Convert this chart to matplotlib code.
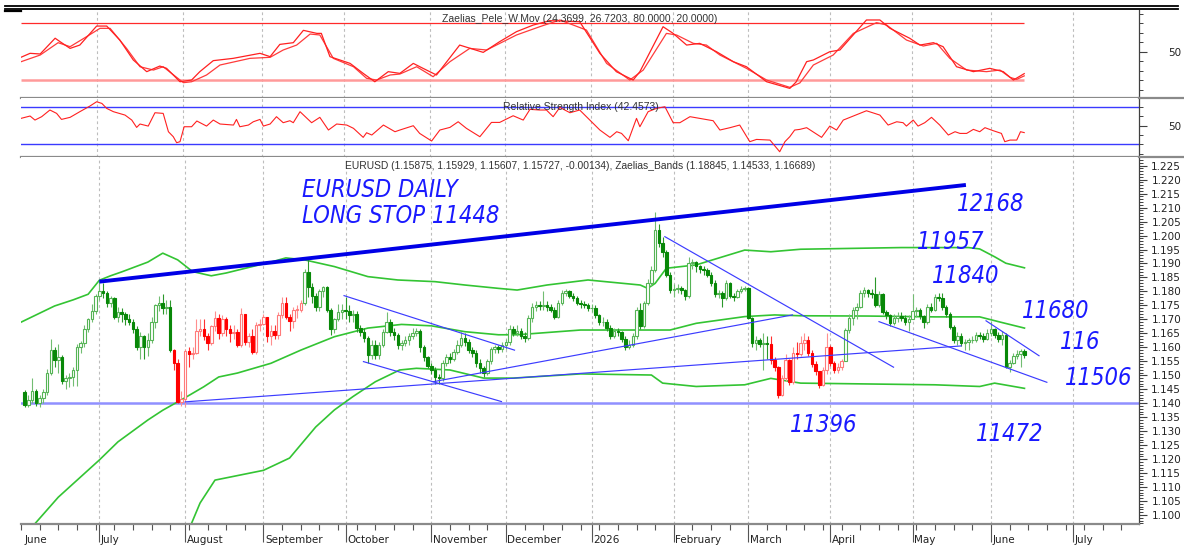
import numpy as np
import matplotlib
matplotlib.use('Agg')
import matplotlib.pyplot as plt
from matplotlib.lines import Line2D
from matplotlib.transforms import blended_transform_factory

W, H = 1184, 548
plt.rcParams['font.family'] = ['DejaVu Sans']

# month starts as trading-day index (0 = 2 June 2025)
month_idx = [0, 21, 44, 65, 87, 110, 130, 153, 175, 195, 217, 239, 260, 282]
month_lbl = ['June', 'July', 'August', 'September', 'October', 'November', 'December',
             '2026', 'February', 'March', 'April', 'May', 'June', 'July']

# daily EURUSD bars, index 1..269 (open = previous close)
first_open = 1.1440
close = [
    # June
    1.1395, 1.1410, 1.1445, 1.1400, 1.1420, 1.1440, 1.1510, 1.1590, 1.1555, 1.1565,
    1.1480, 1.1490, 1.1495, 1.1520, 1.1600, 1.1615, 1.1665, 1.1700, 1.1730, 1.1785,
    # July
    1.1800, 1.1795, 1.1760, 1.1775, 1.1710, 1.1725, 1.1720, 1.1700, 1.1690, 1.1665,
    1.1600, 1.1640, 1.1600, 1.1625, 1.1690, 1.1750, 1.1760, 1.1740, 1.1745, 1.1590,
    1.1545, 1.1405, 1.1415,
    # August
    1.1587, 1.1575, 1.1580, 1.1660, 1.1665, 1.1640, 1.1615, 1.1675, 1.1705, 1.1650,
    1.1700, 1.1665, 1.1650, 1.1655, 1.1610, 1.1720, 1.1620, 1.1640, 1.1585, 1.1680, 1.1685,
    # September
    1.1710, 1.1640, 1.1660, 1.1645, 1.1715, 1.1760, 1.1710, 1.1695, 1.1735, 1.1735,
    1.1760, 1.1870, 1.1815, 1.1785, 1.1745, 1.1800, 1.1815, 1.1735, 1.1665, 1.1700,
    1.1725, 1.1735,
    # October
    1.1730, 1.1715, 1.1720, 1.1668, 1.1655, 1.1635, 1.1573, 1.1610, 1.1572, 1.1610,
    1.1655, 1.1690, 1.1656, 1.1645, 1.1610, 1.1615, 1.1625, 1.1640, 1.1650, 1.1660,
    1.1600, 1.1565, 1.1535,
    # November
    1.1520, 1.1495, 1.1490, 1.1545, 1.1565, 1.1560, 1.1585, 1.1610, 1.1635, 1.1620,
    1.1590, 1.1580, 1.1545, 1.1525, 1.1510, 1.1550, 1.1595, 1.1600, 1.1595, 1.1610,
    # December
    1.1620, 1.1665, 1.1650, 1.1660, 1.1640, 1.1635, 1.1705, 1.1745, 1.1750, 1.1748,
    1.1752, 1.1745, 1.1735, 1.1710, 1.1760, 1.1795, 1.1800, 1.1785, 1.1775, 1.1760,
    1.1755, 1.1752, 1.1740,
    # January
    1.1742, 1.1715, 1.1690, 1.1692, 1.1670, 1.1640, 1.1660, 1.1655, 1.1630, 1.1603,
    1.1610, 1.1640, 1.1733, 1.1675, 1.1757, 1.1830, 1.1877, 1.2020, 1.1972, 1.1940,
    1.1860, 1.1805,
    # February
    1.1810, 1.1812, 1.1805, 1.1782, 1.1900, 1.1905, 1.1890, 1.1880, 1.1877, 1.1860,
    1.1830, 1.1790, 1.1795, 1.1775, 1.1830, 1.1785, 1.1780, 1.1800, 1.1810, 1.1812,
    # March
    1.1705, 1.1615, 1.1625, 1.1612, 1.1617, 1.1612, 1.1555, 1.1530, 1.1430, 1.1490,
    1.1555, 1.1475, 1.1580, 1.1575, 1.1615, 1.1625, 1.1580, 1.1540, 1.1515, 1.1465,
    1.1520, 1.1600,
    # April
    1.1545, 1.1520, 1.1530, 1.1550, 1.1662, 1.1705, 1.1735, 1.1745, 1.1795, 1.1805,
    1.1795, 1.1790, 1.1750, 1.1790, 1.1728, 1.1715, 1.1686, 1.1705, 1.1712, 1.1705,
    1.1690, 1.1700,
    # May
    1.1730, 1.1735, 1.1712, 1.1690, 1.1745, 1.1735, 1.1780, 1.1775, 1.1745, 1.1720,
    1.1674, 1.1626, 1.1640, 1.1614, 1.1620, 1.1625, 1.1625, 1.1645, 1.1640, 1.1630, 1.1650,
    # June
    1.1665, 1.1645, 1.1630, 1.1645, 1.1531, 1.1545, 1.1570, 1.1575, 1.15875, 1.15727,
]
high = [
    1.1448, 1.1430, 1.1490, 1.1450, 1.1428, 1.1452, 1.1522, 1.1630, 1.1600, 1.1612,
    1.1572, 1.1502, 1.1508, 1.1530, 1.1612, 1.1622, 1.1680, 1.1706, 1.1755, 1.1790,
    1.1840, 1.1830, 1.1800, 1.1785, 1.1780, 1.1745, 1.1740, 1.1725, 1.1720, 1.1700,
    1.1675, 1.1655, 1.1645, 1.1650, 1.1710, 1.1755, 1.1785, 1.1790, 1.1770, 1.1770,
    1.1595, 1.1560, 1.1445,
    1.1595, 1.1600, 1.1600, 1.1700, 1.1700, 1.1700, 1.1650, 1.1680, 1.1730, 1.1720,
    1.1715, 1.1710, 1.1680, 1.1680, 1.1665, 1.1740, 1.1720, 1.1650, 1.1665, 1.1690, 1.1700,
    1.1720, 1.1710, 1.1680, 1.1680, 1.1725, 1.1780, 1.1780, 1.1720, 1.1745, 1.1750,
    1.1770, 1.1880, 1.1918, 1.1830, 1.1795, 1.1810, 1.1820, 1.1820, 1.1740, 1.1705,
    1.1755, 1.1755,
    1.1780, 1.1750, 1.1735, 1.1730, 1.1680, 1.1670, 1.1640, 1.1625, 1.1625, 1.1620,
    1.1665, 1.1727, 1.1700, 1.1670, 1.1650, 1.1625, 1.1640, 1.1650, 1.1670, 1.1670,
    1.1665, 1.1610, 1.1570,
    1.1545, 1.1530, 1.1505, 1.1555, 1.1575, 1.1580, 1.1595, 1.1625, 1.1656, 1.1650,
    1.1630, 1.1600, 1.1590, 1.1560, 1.1535, 1.1560, 1.1600, 1.1610, 1.1610, 1.1620,
    1.1630, 1.1680, 1.1675, 1.1680, 1.1670, 1.1655, 1.1715, 1.1760, 1.1765, 1.1765,
    1.1800, 1.1765, 1.1755, 1.1745, 1.1770, 1.1805, 1.1808, 1.1805, 1.1795, 1.1785,
    1.1770, 1.1765, 1.1760,
    1.1755, 1.1750, 1.1720, 1.1710, 1.1700, 1.1680, 1.1670, 1.1670, 1.1660, 1.1640,
    1.1625, 1.1650, 1.1745, 1.1760, 1.1765, 1.1845, 1.1890, 1.2085, 1.2040, 1.1995,
    1.1950, 1.1870,
    1.1825, 1.1825, 1.1820, 1.1810, 1.1925, 1.1915, 1.1910, 1.1895, 1.1890, 1.1885,
    1.1870, 1.1840, 1.1805, 1.1800, 1.1840, 1.1835, 1.1795, 1.1810, 1.1818, 1.1820,
    1.1815, 1.1710, 1.1640, 1.1635, 1.1650, 1.1640, 1.1640, 1.1565, 1.1535, 1.1500,
    1.1575, 1.1560, 1.1600, 1.1620, 1.1640, 1.1650, 1.1640, 1.1590, 1.1550, 1.1510,
    1.1530, 1.1650,
    1.1610, 1.1550, 1.1545, 1.1560, 1.1670, 1.1720, 1.1745, 1.1760, 1.1805, 1.1815,
    1.1810, 1.1810, 1.1853, 1.1800, 1.1795, 1.1735, 1.1720, 1.1720, 1.1725, 1.1725,
    1.1715, 1.1715,
    1.1790, 1.1745, 1.1740, 1.1715, 1.1755, 1.1760, 1.1790, 1.1795, 1.1795, 1.1750,
    1.1725, 1.1680, 1.1655, 1.1650, 1.1630, 1.1635, 1.1640, 1.1655, 1.1655, 1.1650, 1.1665,
    1.1695, 1.1670, 1.1655, 1.1660, 1.1650, 1.1555, 1.1580, 1.1590, 1.1595, 1.15929,
]
low = [
    1.1385, 1.1385, 1.1400, 1.1390, 1.1385, 1.1400, 1.1430, 1.1500, 1.1530, 1.1510,
    1.1470, 1.1450, 1.1458, 1.1462, 1.1460, 1.1580, 1.1600, 1.1655, 1.1690, 1.1720,
    1.1770, 1.1775, 1.1745, 1.1745, 1.1700, 1.1690, 1.1690, 1.1680, 1.1680, 1.1650,
    1.1590, 1.1560, 1.1560, 1.1570, 1.1615, 1.1670, 1.1730, 1.1720, 1.1720, 1.1585,
    1.1520, 1.1400, 1.1390,
    1.1390, 1.1530, 1.1560, 1.1575, 1.1640, 1.1625, 1.1590, 1.1610, 1.1660, 1.1630,
    1.1640, 1.1640, 1.1620, 1.1630, 1.1600, 1.1600, 1.1610, 1.1600, 1.1575, 1.1575, 1.1660,
    1.1680, 1.1620, 1.1610, 1.1630, 1.1630, 1.1705, 1.1700, 1.1660, 1.1670, 1.1705,
    1.1725, 1.1750, 1.1780, 1.1760, 1.1730, 1.1730, 1.1780, 1.1725, 1.1645, 1.1650,
    1.1695, 1.1700,
    1.1700, 1.1690, 1.1690, 1.1655, 1.1640, 1.1620, 1.1545, 1.1560, 1.1560, 1.1560,
    1.1600, 1.1650, 1.1640, 1.1625, 1.1595, 1.1590, 1.1605, 1.1610, 1.1630, 1.1640,
    1.1585, 1.1550, 1.1525,
    1.1505, 1.1470, 1.1468, 1.1480, 1.1535, 1.1545, 1.1550, 1.1575, 1.1600, 1.1605,
    1.1580, 1.1565, 1.1530, 1.1510, 1.1495, 1.1500, 1.1540, 1.1580, 1.1580, 1.1585,
    1.1595, 1.1610, 1.1640, 1.1640, 1.1630, 1.1620, 1.1625, 1.1690, 1.1730, 1.1735,
    1.1735, 1.1730, 1.1725, 1.1700, 1.1705, 1.1750, 1.1785, 1.1775, 1.1765, 1.1750,
    1.1740, 1.1740, 1.1730,
    1.1725, 1.1705, 1.1680, 1.1675, 1.1660, 1.1630, 1.1635, 1.1640, 1.1620, 1.1590,
    1.1595, 1.1600, 1.1630, 1.1665, 1.1670, 1.1750, 1.1820, 1.1870, 1.1960, 1.1925,
    1.1850, 1.1795,
    1.1780, 1.1795, 1.1790, 1.1770, 1.1775, 1.1880, 1.1870, 1.1865, 1.1860, 1.1850,
    1.1820, 1.1780, 1.1775, 1.1745, 1.1770, 1.1775, 1.1765, 1.1775, 1.1795, 1.1800,
    1.1700, 1.1600, 1.1590, 1.1600, 1.1520, 1.1560, 1.1540, 1.1515, 1.1420, 1.1425,
    1.1480, 1.1465, 1.1470, 1.1560, 1.1570, 1.1590, 1.1570, 1.1530, 1.1500, 1.1455,
    1.1460, 1.1505,
    1.1535, 1.1510, 1.1510, 1.1520, 1.1550, 1.1650, 1.1680, 1.1700, 1.1740, 1.1780,
    1.1780, 1.1775, 1.1745, 1.1745, 1.1720, 1.1700, 1.1675, 1.1680, 1.1690, 1.1695,
    1.1680, 1.1660,
    1.1700, 1.1710, 1.1700, 1.1670, 1.1685, 1.1725, 1.1730, 1.1765, 1.1735, 1.1710,
    1.1665, 1.1615, 1.1610, 1.1605, 1.1590, 1.1590, 1.1615, 1.1620, 1.1630, 1.1620, 1.1625,
    1.1640, 1.1635, 1.1620, 1.1610, 1.1525, 1.1513, 1.1540, 1.1560, 1.1530, 1.15607,
]
# bars drawn in red (first, last index)
red_ranges = [(41, 75), (201, 220)]

# Zaelias bands (index, price)
upper_x = [0, 9, 14, 18, 21, 24, 27, 34, 38, 42, 46, 51, 55, 62, 67, 71, 76, 84, 93, 101,
           111, 119, 128, 133, 141, 152, 166, 168, 170, 173, 181, 194, 201, 209, 227, 236,
           254, 257, 261, 264, 269]
upper_v = [1.1690, 1.1748, 1.1770, 1.1790, 1.1840, 1.1856, 1.1870, 1.1905, 1.1937, 1.1913,
           1.1871, 1.1856, 1.1866, 1.1889, 1.1905, 1.1920, 1.1913, 1.1889, 1.1853, 1.1841,
           1.1835, 1.1823, 1.1811, 1.1805, 1.1823, 1.1841, 1.1823, 1.1811, 1.1829, 1.1883,
           1.1895, 1.1948, 1.1942, 1.1951, 1.1955, 1.1957, 1.1957, 1.1952, 1.1924, 1.1901,
           1.18845]
mid_x = [0.5, 10, 21, 26, 34, 38, 44, 49, 53, 58, 67, 75, 84, 93, 102, 110, 119, 128, 133,
         150, 166, 174, 181, 194, 202, 209, 227, 245, 257, 262, 269]
mid_v = [1.0920, 1.1064, 1.1197, 1.1262, 1.1340, 1.1375, 1.1420, 1.1459, 1.1494, 1.1508,
         1.1543, 1.1590, 1.1638, 1.1669, 1.1682, 1.1677, 1.1656, 1.1645, 1.1645, 1.1662,
         1.1662, 1.1662, 1.1686, 1.1710, 1.1716, 1.1713, 1.1712, 1.1709, 1.1709, 1.1692,
         1.16689]
lower_x = [43.5, 48, 52, 65, 72, 79, 84, 89, 95, 101.5, 106, 115, 124, 132, 150, 169, 172,
           181, 194, 201, 209, 245, 257, 261, 269]
lower_v = [1.0900, 1.1043, 1.1125, 1.1160, 1.1204, 1.1315, 1.1376, 1.1424, 1.1477, 1.1519,
           1.1525, 1.1519, 1.1490, 1.1490, 1.1505, 1.1501, 1.1472, 1.1460, 1.1466, 1.1489,
           1.1472, 1.1466, 1.1460, 1.1472, 1.14533]

# Zaelias_Pele_W.Mov, two lines (index, value)
osc_a_x = [0.7, 3.1, 5.8, 9.8, 11.1, 13.8, 16.4, 20.9, 23.6, 27.1, 30.7, 34.3, 37.8, 39.6,
           43.2, 46.3, 48.5, 52.1, 57.4, 64.6, 67.3, 69.9, 73.5, 76.2, 79.8, 81.0, 83.3,
           88.7, 92.2, 95.3, 98.9, 102.0, 105.6, 108.2, 111.8, 118.0, 124.3, 128.7, 133.2,
           137.7, 142.1, 150.1, 155.5, 159.9, 164.4, 166.2, 172.4, 175.1, 178.7, 182.2,
           186.7, 191.2, 194.7, 200.1, 206.3, 208.0, 210.8, 212.6, 217.0, 219.7, 226.8,
           230.4, 233.1, 238.4, 241.1, 244.7, 247.3, 250.9, 255.4, 259.8, 263.4, 266.1, 269.0]
osc_a_v = [44.0, 48.1, 47.4, 64.0, 60.4, 53.3, 56.8, 76.8, 76.8, 62.1, 41.1, 28.8, 34.7, 32.3,
           18.2, 20.0, 28.8, 40.4, 42.8, 48.1, 44.6, 57.5, 59.3, 72.3, 69.1, 69.1, 44.6,
           37.5, 27.0, 18.2, 28.8, 27.0, 37.5, 32.3, 25.3, 56.8, 49.1, 60.4, 70.9,
           77.9, 82.5, 81.4, 48.1, 28.8, 20.0, 28.8, 76.1, 69.1, 56.8, 58.6,
           49.8, 39.3, 34.0, 18.2, 11.2, 18.0, 39.3, 41.1, 49.8, 51.6, 83.2,
           83.2, 74.4, 63.9, 56.8, 59.3, 55.1, 34.0, 28.8, 32.3, 28.8, 20.0, 26.72]
osc_b_x = [0.7, 5.8, 10.6, 13.8, 18.2, 21.8, 24.5, 28.9, 32.5, 36.1, 38.7, 44.1, 46.3, 50.3,
           53.9, 61.9, 67.3, 70.8, 74.4, 78.0, 80.6, 84.2, 89.6, 93.1, 95.8, 99.4, 102.0,
           106.5, 110.9, 115.4, 120.7, 125.2, 133.2, 139.4, 144.8, 151.9, 157.3, 163.5,
           167.1, 173.3, 176.0, 180.5, 184.0, 187.6, 194.7, 200.1, 206.3, 209.0, 212.6,
           217.9, 223.3, 229.5, 232.2, 237.5, 242.0, 245.6, 249.1, 253.6, 258.9, 262.5,
           265.2, 267.0, 269.0]
osc_b_v = [39.3, 46.3, 59.3, 55.1, 65.6, 74.4, 74.4, 53.3, 34.0, 30.5, 34.0, 17.2, 18.2, 25.3,
           35.8, 42.8, 43.9, 51.6, 56.8, 68.4, 67.4, 42.8, 34.0, 21.8, 20.0, 25.3, 26.3,
           34.0, 23.5, 39.3, 53.3, 51.6, 67.4, 76.1, 83.2, 72.6, 37.5, 20.0,
           30.5, 69.1, 67.4, 58.6, 56.8, 46.3, 32.3, 20.0, 12.3, 17.0, 35.8,
           46.3, 69.1, 80.4, 77.9, 62.1, 55.8, 58.6, 42.8, 30.5, 28.8, 30.5,
           22.8, 20.7, 24.37]

# Relative Strength Index (index, value)
rsi_x = [0.67, 3.1, 4.4, 6.2, 8.4, 10.2, 11.5, 13.8, 16.4, 19.1, 20.9, 22.3, 23.6, 25.4,
         28.5, 30.3, 31.6, 32.5, 34.7, 36.5, 38.7, 40.1, 41.4, 42.3, 43.2, 44.3, 46.3, 47.7,
         50.3, 52.1, 53.9, 57.5, 58.3, 59.2, 61.5, 62.8, 64.6, 65.5, 67.3, 69.0, 70.8, 72.6,
         73.5, 75.3, 78.4, 80.6, 82.9, 85.1, 87.8, 89.6, 92.2, 93.1, 94.5, 97.6, 100.7,
         102.0, 105.6, 107.3, 110.5, 112.7, 115.4, 117.6, 119.8, 123.4, 126.5, 128.7, 132.3,
         135.0, 136.8, 139.4, 141.2, 143.0, 144.8, 147.5, 150.1, 152.8, 155.5, 158.2, 160.0,
         161.3, 163.1, 165.3, 166.2, 168.4, 170.6, 172.9, 175.1, 176.9, 179.6, 182.2, 185.8,
         187.6, 190.3, 192.9, 195.6, 197.4, 201.0, 203.6, 205.0, 206.3, 207.6, 209.0, 210.8,
         214.8, 217.0, 218.8, 220.6, 226.8, 230.4, 232.6, 234.9, 236.6, 237.5, 239.3, 240.6,
         242.4, 244.2, 246.4, 248.7, 250.5, 251.8, 253.6, 255.4, 257.1, 258.5, 260.7, 262.9,
         263.8, 265.2, 267.0, 268.0, 269.0]
rsi_v = [57.6, 60.1, 55.8, 59.4, 66.5, 62.9, 56.5, 58.7, 64.7, 70.7, 75.3, 73.5, 68.2, 64.7,
         61.1, 55.8, 48.0, 51.6, 49.4, 63.6, 62.9, 43.4, 38.1, 31.7, 32.8, 48.7, 48.7, 54.8,
         49.4, 55.8, 51.6, 50.5, 56.5, 48.7, 50.5, 54.0, 56.5, 49.4, 51.6, 59.4, 53.0, 55.1,
         53.0, 64.7, 53.0, 58.7, 45.2, 51.6, 50.5, 47.0, 37.4, 42.3, 39.9, 50.5, 43.4,
         45.2, 49.8, 41.6, 33.5, 45.2, 48.0, 54.0, 47.0, 38.1, 53.3, 53.3, 60.4,
         55.8, 67.2, 66.5, 66.5, 59.4, 69.3, 63.6, 66.5, 55.8, 45.2, 37.4, 43.4,
         41.6, 33.8, 57.6, 48.7, 64.7, 68.2, 70.0, 53.0, 53.0, 59.4, 57.6, 55.1,
         45.2, 47.7, 50.5, 32.8, 35.2, 34.5, 22.1, 32.8, 38.1, 45.2, 45.9, 47.7,
         37.4, 49.4, 45.2, 55.8, 65.7, 61.1, 50.5, 54.0, 53.0, 49.4, 55.8, 49.4,
         53.0, 58.7, 50.5, 39.9, 43.4, 41.6, 41.6, 45.9, 43.4, 47.7, 44.5, 41.6,
         32.8, 34.5, 34.5, 43.4, 42.46]

# hand-drawn trend lines: ([x0, x1], [p0, p1])
thick_line = ([21.0, 253.3], [1.1835, 1.2181])
thin_lines = [
    ([44.0, 252.0], [1.1405, 1.1605]),
    ([110.5, 206.8], [1.1477, 1.1716]),
    ([86.6, 132.3], [1.1785, 1.1590]),
    ([91.8, 128.8], [1.1549, 1.1406]),
    ([172.6, 233.9], [1.1996, 1.1529]),
    ([230.0, 275.0], [1.1692, 1.1475]),
    ([258.7, 272.9], [1.1695, 1.1570]),
]
stop_level = 1.140

notes = ['EURUSD DAILY', 'LONG STOP 11448', '12168', '11957', '11840',
         '11680', '116', '11506', '11396', '11472']
note_px = [(302, 190), (302, 216), (957, 204), (917, 242), (932, 276),
           (1022, 311), (1060, 342), (1065, 378), (790, 425), (976, 434)]

# ---------------------------------------------------------------- figure
fig = plt.figure(figsize=(W / 100, H / 100), dpi=100)


def ax_at(top, bottom):
    return fig.add_axes([21 / W, 1 - bottom / H, (1139 - 21) / W, (bottom - top) / H])


def fx(x, y):
    return x / W, 1 - y / H


ax1 = ax_at(10, 97.7)
ax2 = ax_at(97.7, 157)
ax3 = ax_at(157, 524)

for ax in (ax1, ax2, ax3):
    ax.set_xlim(0.67, 299.7)
    ax.spines['top'].set_visible(False)
    ax.spines['left'].set_visible(False)
    ax.spines['right'].set_color('#404040')
    ax.spines['right'].set_linewidth(0.9)
    ax.spines['bottom'].set_color('#8a8a8a')
    ax.spines['bottom'].set_linewidth(1.6)
    ax.yaxis.tick_right()
    for m in month_idx[1:]:
        ax.axvline(m, color='#bdbdbd', lw=0.8, ls=(0, (2.5, 2.5)), zorder=0)
    ax.tick_params(axis='y', which='major', direction='out', length=5.8, width=0.8,
                   color='#404040', labelsize=7.5, labelcolor='#222222', pad=24.5)
    ax.tick_params(axis='y', which='minor', direction='out', length=2.9, width=0.7,
                   color='#404040')

for ax in (ax1, ax2):
    ax.tick_params(axis='x', which='both', length=0, labelbottom=False)
    ax.set_yticks([50])
    ax.set_yticklabels(['50'])
    ax.set_yticks([10, 20, 30, 40, 60, 70, 80, 90], minor=True)
    plt.setp(ax.get_yticklabels(), ha='right')

# oscillator panel
ax1.set_ylim(1.4, 93.7)
ax1.hlines(80, 0.67, 269, color='#ff2a2a', lw=0.9)
ax1.hlines(20, 0.67, 269, color='#ff9a9a', lw=1.8)
ax1.plot(osc_b_x, osc_b_v, color='#ff3b3b', lw=0.9)
ax1.plot(osc_a_x, osc_a_v, color='#ff2020', lw=0.9)

# RSI panel
ax2.set_ylim(16.5, 79.6)
ax2.axhline(70, color='#3a3aff', lw=1.0)
ax2.axhline(30, color='#3a3aff', lw=1.0)
ax2.plot(rsi_x, rsi_v, color='#ff2020', lw=0.8)

# price panel
ax3.set_ylim(1.0968, 1.2281)
yt = np.round(np.arange(1.100, 1.2251, 0.005), 3)
ax3.set_yticks(yt)
ax3.set_yticklabels([f'{v:.3f}' for v in yt])
ax3.set_yticks(np.arange(1.097, 1.228, 0.001), minor=True)
plt.setp(ax3.get_yticklabels(), ha='right')
ax3.set_xticks(month_idx[1:])
ax3.set_xticklabels([])
ax3.set_xticks(np.arange(0, 300, 5), minor=True)
ax3.tick_params(axis='x', which='major', direction='out', length=13, width=0.8,
                color='#555555')
ax3.tick_params(axis='x', which='minor', direction='out', length=4.3, width=0.8,
                color='#555555')
trans = blended_transform_factory(ax3.transData, ax3.transAxes)
for m, lbl in zip(month_idx, month_lbl):
    ax3.text(max(m, 0.67) + 0.4, -0.044, lbl, transform=trans, ha='left', va='center',
             fontsize=7.5, color='#222222', clip_on=False)

ax3.axhline(stop_level, color='#9090ff', lw=1.8, zorder=1)

ax3.plot(upper_x, upper_v, color='#33c433', lw=1.2, zorder=2)
ax3.plot(mid_x, mid_v, color='#33c433', lw=1.2, zorder=2)
ax3.plot(lower_x, lower_v, color='#33c433', lw=1.2, zorder=2)

# candles
c = np.array(close)
h = np.array(high)
l = np.array(low)
o = np.concatenate([[first_open], c[:-1]])
h = np.maximum(h, np.maximum(o, c))
l = np.minimum(l, np.minimum(o, c))
idx = np.arange(1, len(c) + 1)
red = np.zeros(len(c), bool)
for a, b in red_ranges:
    red[(idx >= a) & (idx <= b)] = True
up = c >= o

face, edge, wick = [], [], []
for r, u in zip(red, up):
    if r and u:
        face.append('white'); edge.append('#ff7a7a'); wick.append('#ff8f8f')
    elif r:
        face.append('#ff0000'); edge.append('#ff0000'); wick.append('#ff3030')
    elif u:
        face.append('white'); edge.append('#55b455'); wick.append('#72bd72')
    else:
        face.append('#088808'); edge.append('#088808'); wick.append('#2a982a')

ax3.vlines(idx, l, h, colors=wick, lw=0.8, zorder=3)
ax3.bar(idx, np.maximum(np.abs(c - o), 0.00012), bottom=np.minimum(o, c), width=0.68,
        color=face, edgecolor=edge, linewidth=0.8, zorder=3)

for xs, ys in thin_lines:
    ax3.plot(xs, ys, color='#3c3cff', lw=0.85, zorder=4)
ax3.plot(*thick_line, color='#0000e6', lw=2.8, solid_capstyle='butt', zorder=4)

# headers
fig.text(*fx(580, 19), 'Zaelias_Pele_W.Mov (24.3699, 26.7203, 80.0000, 20.0000)',
         ha='center', va='center', fontsize=7.5, color='#333333', family='Liberation Sans')
fig.text(*fx(581, 107), 'Relative Strength Index (42.4573)',
         ha='center', va='center', fontsize=7.5, color='#333333', family='Liberation Sans')
fig.text(*fx(580, 166),
         'EURUSD (1.15875, 1.15929, 1.15607, 1.15727, -0.00134), '
         'Zaelias_Bands (1.18845, 1.14533, 1.16689)',
         ha='center', va='center', fontsize=7.4, color='#333333', family='Liberation Sans')

# handwritten notes
for s, (px_, py_) in zip(notes, note_px):
    fig.text(*fx(px_, py_), s, ha='left', va='center', fontsize=17, color='#1a1aff',
             style='italic', fontstretch='condensed')

# frame decorations
for yy in (5.6, 8.8):
    fig.add_artist(Line2D([5 / W, 1178 / W], [1 - yy / H] * 2, color='black', lw=1.3,
                          transform=fig.transFigure))
fig.add_artist(Line2D([5 / W, 21 / W], [1 - 10.5 / H] * 2, color='black', lw=1.6,
                      transform=fig.transFigure))
for yy in (97.7, 157):
    fig.add_artist(Line2D([1139 / W, 1184 / W], [1 - yy / H] * 2, color='#8a8a8a', lw=1.6,
                          transform=fig.transFigure))

fig.savefig('out.png', dpi=100)
